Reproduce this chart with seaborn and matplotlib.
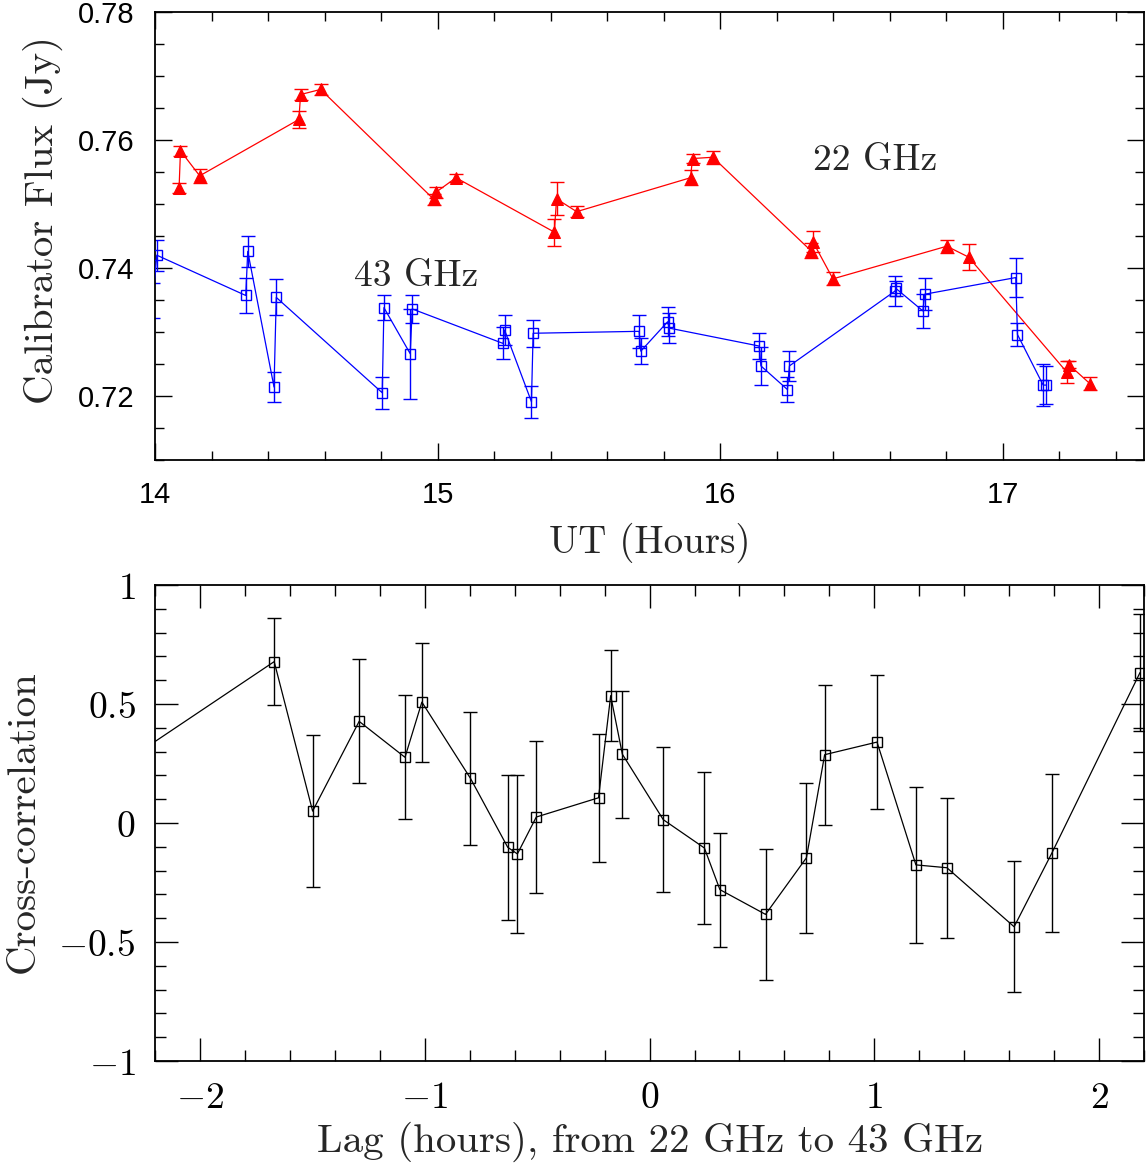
import numpy as np
import pandas as pd
import matplotlib
matplotlib.use("Agg")
import matplotlib.pyplot as plt
import seaborn as sns
from matplotlib.ticker import MultipleLocator, FuncFormatter, FormatStrFormatter

# ---------------- data ----------------
# 22 GHz calibrator flux
ut22 = [14.085, 14.090, 14.158, 14.509, 14.515, 14.586, 14.987, 14.993, 15.065,
        15.413, 15.421, 15.492, 15.895, 15.902, 15.974, 16.321, 16.328, 16.399,
        16.802, 16.879, 17.227, 17.234, 17.309]
flux22 = [0.7525, 0.7583, 0.7544, 0.7632, 0.7671, 0.7679, 0.7507, 0.7518, 0.7541,
          0.7456, 0.7508, 0.7488, 0.7541, 0.7571, 0.7573, 0.7427, 0.7441, 0.7383,
          0.7434, 0.7417, 0.7237, 0.7249, 0.7219]
err22 = [0.0008, 0.0008, 0.0011, 0.0013, 0.0009, 0.0009, 0.0008, 0.0008, 0.0006,
         0.0021, 0.0026, 0.0009, 0.0012, 0.0007, 0.0010, 0.0012, 0.0016, 0.0010,
         0.0010, 0.0020, 0.0017, 0.0006, 0.0010]

# 43 GHz calibrator flux
ut43 = [13.992, 14.006, 14.321, 14.328, 14.421, 14.429, 14.804, 14.810, 14.903,
        14.910, 15.232, 15.237, 15.332, 15.338, 15.713, 15.719, 15.814, 15.820,
        16.138, 16.144, 16.238, 16.245, 16.619, 16.622, 16.717, 16.724, 17.046,
        17.052, 17.143, 17.153]
flux43 = [0.7349, 0.7420, 0.7357, 0.7426, 0.7214, 0.7354, 0.7205, 0.7338, 0.7266,
          0.7336, 0.7282, 0.7303, 0.7191, 0.7298, 0.7301, 0.7270, 0.7316, 0.7306,
          0.7278, 0.7247, 0.7210, 0.7247, 0.7364, 0.7368, 0.7333, 0.7359, 0.7385,
          0.7296, 0.7217, 0.7217]
err43 = [0.0027, 0.0024, 0.0027, 0.0024, 0.0024, 0.0028, 0.0025, 0.0020, 0.0070,
         0.0022, 0.0025, 0.0024, 0.0025, 0.0021, 0.0026, 0.0020, 0.0023, 0.0023,
         0.0021, 0.0030, 0.0019, 0.0023, 0.0023, 0.0012, 0.0027, 0.0025, 0.0031,
         0.0018, 0.0033, 0.0030]

# cross-correlation vs lag
lag = [-2.33, -1.670, -1.499, -1.292, -1.088, -1.013, -0.797, -0.631, -0.588,
       -0.504, -0.227, -0.173, -0.121, 0.061, 0.244, 0.313, 0.516, 0.698, 0.779,
       1.012, 1.185, 1.323, 1.622, 1.790, 2.182]
cc = [0.26, 0.678, 0.050, 0.427, 0.276, 0.508, 0.188, -0.102, -0.130, 0.025,
      0.106, 0.535, 0.289, 0.014, -0.105, -0.280, -0.384, -0.146, 0.287, 0.340,
      -0.176, -0.188, -0.436, -0.126, 0.632]
cc_err = [0.30, 0.183, 0.32, 0.26, 0.26, 0.25, 0.28, 0.305, 0.333, 0.32, 0.268,
          0.19, 0.267, 0.305, 0.32, 0.24, 0.275, 0.315, 0.294, 0.282, 0.328,
          0.294, 0.275, 0.333, 0.247]

labels_top = ["22 GHz", "43 GHz"]

df22 = pd.DataFrame({"ut": ut22, "flux": flux22, "err": err22})
df43 = pd.DataFrame({"ut": ut43, "flux": flux43, "err": err43})
dfcc = pd.DataFrame({"lag": lag, "cc": cc, "err": cc_err})

# ---------------- style ----------------
sns.set_theme(style="ticks")
plt.rcParams["font.family"] = ["Liberation Sans", "DejaVu Sans"]
plt.rcParams["mathtext.fontset"] = "cm"
SERIF = ["cmr10", "DejaVu Serif"]

fig = plt.figure(figsize=(11.46, 11.63), dpi=100)
fig.patch.set_facecolor("white")
ax1 = fig.add_axes([0.1353, 0.6045, 0.863, 0.3852])
ax2 = fig.add_axes([0.1353, 0.0877, 0.863, 0.4093])

for ax in (ax1, ax2):
    ax.set_facecolor("white")
    for s in ax.spines.values():
        s.set_linewidth(1.3)
        s.set_color("black")
        s.set_visible(True)

# ---------------- top panel ----------------
ax1.errorbar(df22["ut"], df22["flux"], yerr=df22["err"], fmt="none",
             ecolor="red", elinewidth=1.0, capsize=5, capthick=1.0, zorder=2)
sns.lineplot(data=df22, x="ut", y="flux", sort=False, estimator=None, ax=ax1,
             color="red", lw=0.9, marker="^", markersize=8.5,
             markerfacecolor="red", markeredgecolor="red", zorder=3)
ax1.errorbar(df43["ut"], df43["flux"], yerr=df43["err"], fmt="none",
             ecolor="blue", elinewidth=1.0, capsize=5, capthick=1.0, zorder=2)
sns.lineplot(data=df43, x="ut", y="flux", sort=False, estimator=None, ax=ax1,
             color="blue", lw=0.9, marker="s", markersize=7,
             markerfacecolor="none", markeredgecolor="blue",
             markeredgewidth=1.0, markevery=list(range(1, len(ut43))), zorder=3)

ax1.set_xlim(14, 17.5)
ax1.set_ylim(0.71, 0.78)
ax1.xaxis.set_major_locator(MultipleLocator(1))
ax1.xaxis.set_minor_locator(MultipleLocator(0.2))
ax1.yaxis.set_major_locator(MultipleLocator(0.02))
ax1.yaxis.set_minor_locator(MultipleLocator(0.005))
ax1.yaxis.set_major_formatter(FormatStrFormatter("%.2f"))
ax1.tick_params(which="both", direction="in", top=True, right=True,
                labelsize=21, width=1.0, colors="black")
ax1.tick_params(which="major", length=12, pad=15)
ax1.tick_params(which="minor", length=6.5)
ax1.set_xlabel("UT (Hours)", fontfamily=SERIF, fontsize=28)
ax1.set_ylabel("Calibrator Flux (Jy)", fontfamily=SERIF, fontsize=29.5)
ax1.xaxis.set_label_coords(0.5005, -0.14)
ax1.yaxis.set_label_coords(-0.093, 0.535)
ax1.text(16.327, 0.7568, labels_top[0], fontfamily=SERIF, fontsize=27,
         va="center", ha="left")
ax1.text(14.705, 0.7387, labels_top[1], fontfamily=SERIF, fontsize=27,
         va="center", ha="left")

# ---------------- bottom panel ----------------
ax2.errorbar(dfcc["lag"], dfcc["cc"], yerr=dfcc["err"], fmt="none",
             ecolor="black", elinewidth=1.0, capsize=5, capthick=1.0, zorder=2)
sns.lineplot(data=dfcc, x="lag", y="cc", sort=False, estimator=None, ax=ax2,
             color="black", lw=0.9, marker="s", markersize=7.5,
             markerfacecolor="none", markeredgecolor="black",
             markeredgewidth=1.0, zorder=3)
ax2.set_xlim(-2.2, 2.2)
ax2.set_ylim(-1, 1)
ax2.xaxis.set_major_locator(MultipleLocator(1))
ax2.xaxis.set_minor_locator(MultipleLocator(0.2))
ax2.yaxis.set_major_locator(MultipleLocator(0.5))
ax2.yaxis.set_minor_locator(MultipleLocator(0.1))
fmt = FuncFormatter(lambda v, p: r"$%g$" % (0 if abs(v) < 1e-9 else v))
ax2.xaxis.set_major_formatter(fmt)
ax2.yaxis.set_major_formatter(fmt)
ax2.tick_params(which="both", direction="in", top=True, right=True,
                labelsize=27, width=1.0, colors="black")
ax2.tick_params(which="major", length=16.5, pad=14)
ax2.tick_params(which="minor", length=8)
ax2.set_xlabel("Lag (hours), from 22 GHz to 43 GHz", fontfamily=SERIF, fontsize=29.5)
ax2.set_ylabel("Cross-correlation", fontfamily=SERIF, fontsize=29.5)
ax2.xaxis.set_label_coords(0.5005, -0.128)
ax2.yaxis.set_label_coords(-0.115, 0.502)

fig.savefig("out.png", dpi=100, facecolor="white")
